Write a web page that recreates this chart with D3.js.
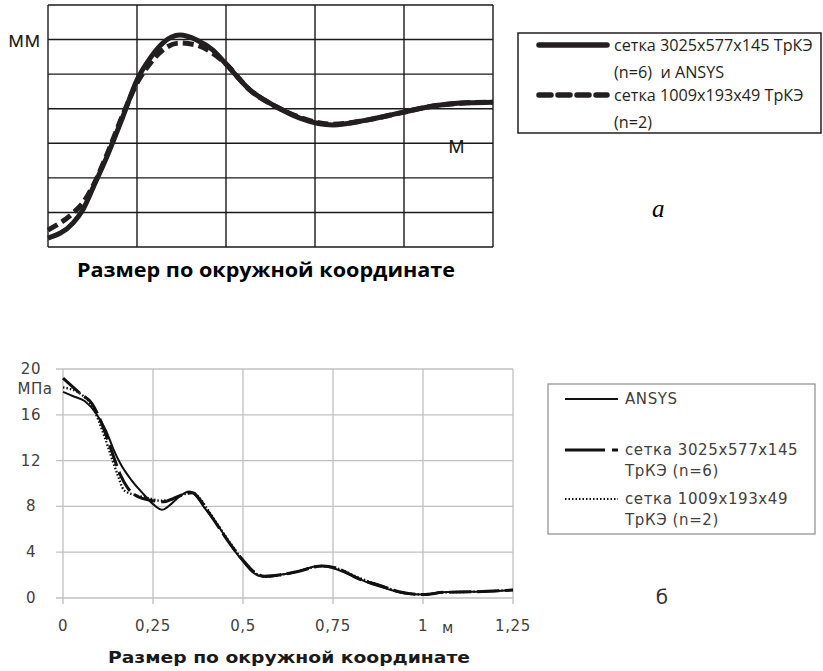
<!DOCTYPE html>
<html>
<head>
<meta charset="utf-8">
<script src="https://cdn.jsdelivr.net/npm/d3@7"></script>
<style>
  body { margin: 0; background: #fff; }
  svg { display: block; }
</style>
</head>
<body>
<div class="chart"></div>
<script>
const w = 823;
const h = 671;

// ---- chart "a": displacement, grid units (5 columns x 7 rows) ----
const topX = [0, 0.28, 0.39, 0.51, 0.66, 0.84, 1.0, 1.15, 1.29, 1.48, 1.67, 1.85, 1.99, 2.27, 2.57, 2.83, 3.2, 3.58, 3.96, 4.33, 4.71, 5.0];
const topFine = [0.26, 0.69, 1.07, 1.74, 2.60, 3.76, 4.83, 5.47, 5.90, 6.13, 5.99, 5.70, 5.32, 4.54, 4.05, 3.73, 3.53, 3.67, 3.88, 4.08, 4.17, 4.19];
const topCoarse = [0.49, 0.98, 1.27, 1.79, 2.66, 3.82, 4.74, 5.32, 5.70, 5.90, 5.84, 5.61, 5.32, 4.54, 4.05, 3.75, 3.55, 3.67, 3.88, 4.08, 4.17, 4.19];
const topLegend = [["сетка 3025x577x145 ТрКЭ", "(n=6)\u00a0\u00a0и ANSYS"], ["сетка 1009x193x49 ТрКЭ", "(n=2)"]];

// ---- chart "б": stress, MPa vs m ----
const ansysX = [0, 0.03, 0.06, 0.09, 0.12, 0.14, 0.16, 0.19, 0.22, 0.25, 0.275, 0.30, 0.325, 0.35, 0.37, 0.39, 0.42, 0.45, 0.475, 0.50, 0.525, 0.55, 0.575, 0.60, 0.65, 0.70, 0.72, 0.75, 0.80, 0.85, 0.90, 0.95, 1.0, 1.05, 1.1, 1.15, 1.2, 1.25];
const ansysY = [18.0, 17.6, 17.2, 16.2, 14.6, 13.0, 11.7, 10.3, 9.2, 8.2, 7.7, 8.2, 8.9, 9.3, 8.9, 8.0, 6.8, 5.4, 4.2, 3.2, 2.3, 1.9, 1.85, 2.0, 2.3, 2.75, 2.8, 2.6, 2.0, 1.3, 0.8, 0.4, 0.3, 0.5, 0.55, 0.55, 0.6, 0.7];
const fineX = [0, 0.05, 0.08, 0.10, 0.12, 0.14, 0.16, 0.18, 0.20, 0.22, 0.25, 0.28, 0.30, 0.33, 0.36, 0.38, 0.40, 0.43, 0.46, 0.50, 0.53, 0.56, 0.60, 0.65, 0.72, 0.76, 0.82, 0.88, 0.94, 1.0, 1.06, 1.15, 1.25];
const fineY = [19.2, 17.8, 17.0, 15.8, 14.2, 12.4, 10.7, 9.6, 9.0, 8.7, 8.5, 8.4, 8.6, 9.0, 9.2, 8.6, 7.7, 6.3, 4.9, 3.3, 2.3, 1.9, 2.0, 2.3, 2.8, 2.6, 1.7, 1.1, 0.5, 0.3, 0.5, 0.55, 0.7];
const coarseX = [0, 0.05, 0.08, 0.10, 0.125, 0.15, 0.17, 0.20, 0.24, 0.27, 0.30, 0.33, 0.36, 0.38, 0.40, 0.43, 0.46, 0.50, 0.53, 0.56, 0.60, 0.65, 0.72, 0.76, 0.82, 0.88, 0.94, 1.0, 1.06, 1.15, 1.25];
const coarseY = [18.4, 17.8, 16.8, 15.4, 13.2, 10.9, 9.4, 9.0, 8.7, 8.5, 8.6, 9.0, 9.2, 8.7, 7.8, 6.4, 5.0, 3.3, 2.3, 1.85, 2.0, 2.3, 2.8, 2.6, 1.8, 1.1, 0.5, 0.3, 0.5, 0.55, 0.7];
const yTicks = [0, 4, 8, 12, 16, 20];
const xTicks = [0, 0.25, 0.5, 0.75, 1, 1.25];
const xTickLabels = ["0", "0,25", "0,5", "0,75", "1", "1,25"];
const botLegend = [["ANSYS"], ["сетка 3025x577x145", "ТрКЭ (n=6)"], ["сетка 1009x193x49", "ТрКЭ (n=2)"]];

const svg = d3.select(".chart").append("svg")
    .attr("width", w)
    .attr("height", h);

// ================= chart a =================
const xa = d3.scaleLinear().domain([0, 5]).range([48, 493]);
const ya = d3.scaleLinear().domain([0, 7]).range([247, 5]);

const ga = svg.append("g");

ga.selectAll(".vgrid")
  .data(d3.range(0, 6))
  .enter().append("line")
    .attr("x1", d => xa(d)).attr("x2", d => xa(d))
    .attr("y1", ya(0)).attr("y2", ya(7))
    .attr("stroke", "#1a1a1a").attr("stroke-width", 1.4);

ga.selectAll(".hgrid")
  .data(d3.range(0, 8))
  .enter().append("line")
    .attr("x1", xa(0)).attr("x2", xa(5))
    .attr("y1", d => ya(d)).attr("y2", d => ya(d))
    .attr("stroke", "#1a1a1a").attr("stroke-width", 1.4);

const lineA = d3.line()
    .x(d => xa(d[0]))
    .y(d => ya(d[1]))
    .curve(d3.curveMonotoneX);

ga.append("path")
  .datum(d3.zip(topX, topCoarse))
  .attr("d", lineA)
  .attr("fill", "none")
  .attr("stroke", "#231f20")
  .attr("stroke-width", 5)
  .attr("stroke-dasharray", "11,5");

ga.append("path")
  .datum(d3.zip(topX, topFine))
  .attr("d", lineA)
  .attr("fill", "none")
  .attr("stroke", "#231f20")
  .attr("stroke-width", 5);

ga.append("text").attr("x", 8).attr("y", 47)
  .style("font-family", "Open Sans").style("font-size", "22px")
  .attr("fill", "#231f20")
  .text("мм");
ga.append("text").attr("x", 448).attr("y", 153)
  .style("font-family", "Open Sans").style("font-size", "23px")
  .attr("fill", "#231f20")
  .text("м");

ga.append("text").attr("x", 266).attr("y", 277)
  .attr("text-anchor", "middle")
  .style("font-family", "Open Sans").style("font-weight", "bold").style("font-size", "20px")
  .attr("textLength", 378).attr("lengthAdjust", "spacingAndGlyphs")
  .text("Размер по окружной координате");

// legend a
ga.append("rect")
  .attr("x", 518).attr("y", 33).attr("width", 303).attr("height", 100)
  .attr("fill", "none").attr("stroke", "#231f20").attr("stroke-width", 1.5);

const legA = ga.selectAll(".lega")
  .data(topLegend)
  .enter().append("g")
    .attr("transform", (d, i) => `translate(0,${45 + i * 50})`);

legA.append("line")
  .attr("x1", 539).attr("x2", 607)
  .attr("stroke", "#231f20").attr("stroke-width", 5.5)
  .attr("stroke-linecap", "round")
  .attr("stroke-dasharray", (d, i) => i ? "12,7" : null);

legA.selectAll("text")
  .data(d => d)
  .enter().append("text")
    .attr("x", 614)
    .attr("y", (d, i) => 6 + i * 27)
    .style("font-family", "Open Sans").style("font-size", "16.2px")
    .attr("fill", "#231f20")
    .text(d => d);

ga.append("text").attr("x", 652).attr("y", 217)
  .style("font-family", "Liberation Serif").style("font-style", "italic").style("font-size", "25px")
  .text("а");

// ================= chart б =================
const xb = d3.scaleLinear().domain([0, 1.25]).range([63, 513]);
const yb = d3.scaleLinear().domain([0, 20]).range([598, 369]);

const gb = svg.append("g");

gb.selectAll(".bh")
  .data(yTicks)
  .enter().append("line")
    .attr("x1", xb(0) - 7).attr("x2", xb(1.25))
    .attr("y1", d => yb(d)).attr("y2", d => yb(d))
    .attr("stroke", "#c0c0c0").attr("stroke-width", 1.3);

gb.selectAll(".bv")
  .data(xTicks)
  .enter().append("line")
    .attr("x1", d => xb(d)).attr("x2", d => xb(d))
    .attr("y1", yb(20)).attr("y2", yb(0) + 6)
    .attr("stroke", "#c0c0c0").attr("stroke-width", 1.3);

const tickFont = sel => sel
  .style("font-family", "DejaVu Sans").style("font-size", "15px")
  .style("letter-spacing", "0.6px")
  .attr("fill", "#404040");

gb.selectAll(".yl")
  .data(yTicks)
  .enter().append("text")
    .attr("x", 31)
    .attr("y", d => yb(d) + 5)
    .attr("text-anchor", "middle")
    .call(tickFont)
    .text(d => d);

gb.append("text").attr("x", 35).attr("y", 394)
  .attr("text-anchor", "middle")
  .call(tickFont)
  .text("МПа");

gb.selectAll(".xl")
  .data(xTicks)
  .enter().append("text")
    .attr("x", d => xb(d))
    .attr("y", 631)
    .attr("text-anchor", "middle")
    .call(tickFont)
    .text((d, i) => xTickLabels[i]);

gb.append("text").attr("x", 448).attr("y", 633)
  .attr("text-anchor", "middle")
  .call(tickFont)
  .text("м");

gb.append("text").attr("x", 289).attr("y", 663)
  .attr("text-anchor", "middle")
  .style("font-family", "DejaVu Sans").style("font-weight", "bold").style("font-size", "16px")
  .attr("fill", "#1a1a1a")
  .attr("textLength", 362).attr("lengthAdjust", "spacingAndGlyphs")
  .text("Размер по окружной координате");

const lineB = d3.line()
    .x(d => xb(d[0]))
    .y(d => yb(d[1]))
    .curve(d3.curveMonotoneX);

gb.append("path")
  .datum(d3.zip(coarseX, coarseY))
  .attr("d", lineB)
  .attr("fill", "none").attr("stroke", "#111")
  .attr("stroke-width", 2.4).attr("stroke-dasharray", "1.5,2");

gb.append("path")
  .datum(d3.zip(fineX, fineY))
  .attr("d", lineB)
  .attr("fill", "none").attr("stroke", "#111")
  .attr("stroke-width", 3).attr("stroke-dasharray", "22,6");

gb.append("path")
  .datum(d3.zip(ansysX, ansysY))
  .attr("d", lineB)
  .attr("fill", "none").attr("stroke", "#111")
  .attr("stroke-width", 2);

// legend б
gb.append("rect")
  .attr("x", 548).attr("y", 384).attr("width", 267).attr("height", 150)
  .attr("fill", "none").attr("stroke", "#8c8c8c").attr("stroke-width", 1.2);

const legYs = [399, 450, 499];
const legDash = [null, "40,7,6,0", "1.5,2"];
const legW = [2, 3.2, 2];

const legB = gb.selectAll(".legb")
  .data(botLegend)
  .enter().append("g")
    .attr("transform", (d, i) => `translate(0,${legYs[i]})`);

legB.append("line")
  .attr("x1", 565).attr("x2", 618)
  .attr("stroke", "#111")
  .attr("stroke-width", (d, i) => legW[i])
  .attr("stroke-dasharray", (d, i) => legDash[i]);

legB.selectAll("text")
  .data(d => d)
  .enter().append("text")
    .attr("x", 625)
    .attr("y", (d, i) => 5 + i * 21)
    .call(tickFont)
    .text(d => d);

gb.append("text").attr("x", 662).attr("y", 604)
  .attr("text-anchor", "middle")
  .style("font-family", "DejaVu Sans").style("font-size", "20px")
  .attr("fill", "#333")
  .text("б");
</script>
</body>
</html>
